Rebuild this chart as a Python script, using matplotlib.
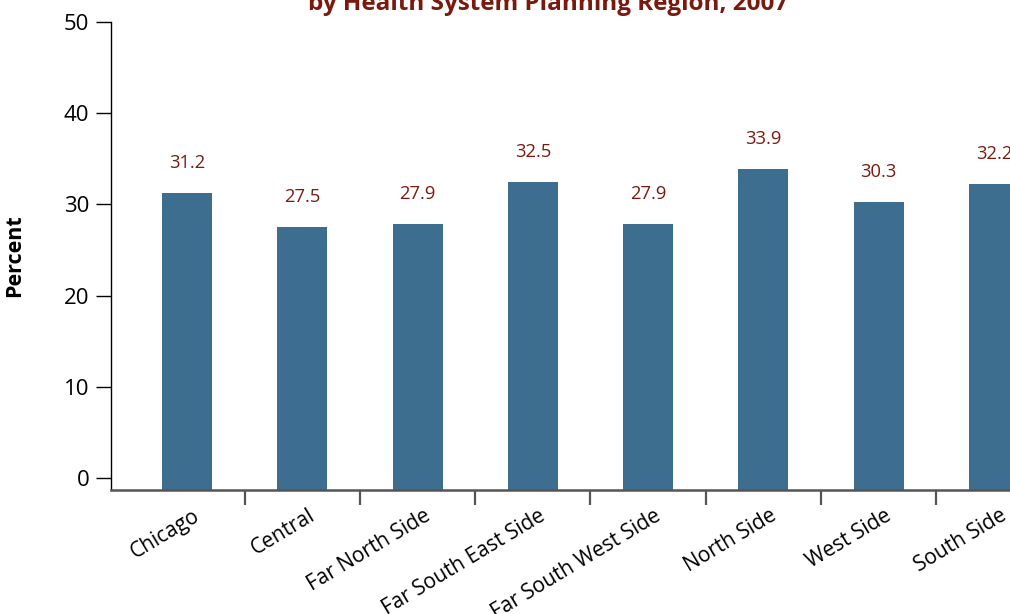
import matplotlib
matplotlib.use("Agg")
import matplotlib.pyplot as plt
import numpy as np

regiones = ["Chicago", "Central", "Far North Side", "Far South East Side",
            "Far South West Side", "North Side", "West Side", "South Side"]
porcentajes = [31.2, 27.5, 27.9, 32.5, 27.9, 33.9, 30.3, 32.2]
yticks = [0, 10, 20, 30, 40, 50]

plt.rcParams['font.family'] = ['Open Sans', 'DejaVu Sans']

azul = "#3d6e8f"
rojo = "#7a1a0e"

fig = plt.figure(figsize=(10.1, 6.14), dpi=100)
ax = fig.add_axes([111/1010, 124/614, 1 - 111/1010, (490-22)/614])

x = np.arange(len(regiones))
ymin = -1.32
ax.bar(x, np.array(porcentajes) - ymin, bottom=ymin, width=0.434, color=azul)
for xi, v in zip(x, porcentajes):
    ax.text(xi, v + 2.3, f"{v:.1f}", ha="center", va="bottom", color=rojo, fontsize=13.2)

ax.set_ylim(ymin, 50)
ax.set_xlim(-0.66, 7.14)

ax.set_yticks(yticks)
ax.tick_params(axis="y", length=10.5, width=1.0, pad=5, labelsize=16, color="black")
ax.spines["left"].set_bounds(ymin, 50)
ax.spines["left"].set_linewidth(1.0)
ax.spines["bottom"].set_color("#555555")
ax.spines["bottom"].set_linewidth(1.8)
ax.spines["top"].set_visible(False)
ax.spines["right"].set_visible(False)

ax.set_xticks(x[:-1] + 0.5)
ax.set_xticklabels([])
ax.tick_params(axis="x", which="major", length=11, width=1.6, color="#555555")
ax.set_xticks(x + 0.05, minor=True)
ax.set_xticklabels(regiones, minor=True, rotation=31, ha="right",
                   rotation_mode="anchor", fontsize=15)
ax.tick_params(axis="x", which="minor", length=0, pad=11)

ax.set_ylabel("Percent", fontsize=15.5, fontweight="bold", labelpad=28)

fig.text(0.543, 0.993, "by Health System Planning Region, 2007", ha="center",
         va="center", color=rojo, fontsize=17.5, fontweight="bold")

fig.savefig("out.png", dpi=100)
